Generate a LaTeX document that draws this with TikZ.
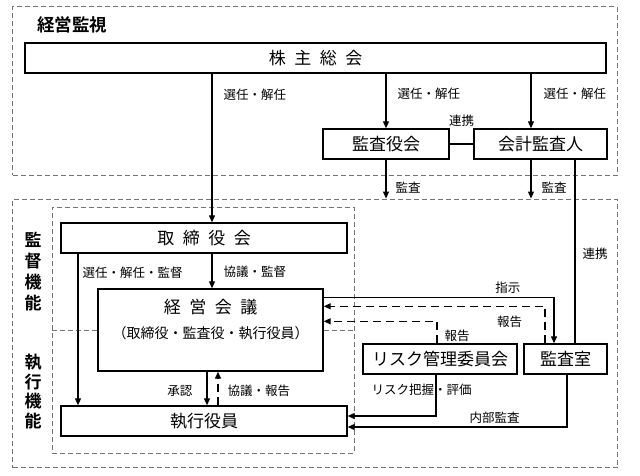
\documentclass[tikz,border=0pt]{standalone}
\usepackage{fontspec}
\setmainfont{Noto Sans CJK JP}[BoldFont={Noto Sans CJK JP Bold}]
\usetikzlibrary{arrows.meta,positioning}
\newcommand{\jgap}{\hspace{0.5em}}

\begin{document}
\begin{tikzpicture}[x=1pt, y=-1pt,
  box/.style={draw, line width=1.4pt, fill=white, inner sep=0pt, minimum height=30pt, font=\fontsize{17}{20}\selectfont},
  area/.style={draw=black!55, line width=0.9pt, dash pattern=on 5pt off 3pt, inner sep=0pt},
  lbl/.style={inner sep=1pt, font=\fontsize{12.5}{14}\selectfont},
  side/.style={align=center, font=\fontsize{17}{21}\selectfont\bfseries},
  arr/.style={draw, line width=1.2pt, -{Triangle[length=7pt,width=6pt]}},
  darr/.style={arr, line width=1.4pt, dash pattern=on 8pt off 5pt}]
    \useasboundingbox (0,0) rectangle (640,475);

    % areas
    \node[area, minimum width=604.5pt, minimum height=168.5pt] (kanshiarea) at (314.75,90.75) {};
    \node[area, minimum width=605pt, minimum height=268.5pt] (gyomuarea) at (315,333.25) {};
    \node[area, minimum width=302pt, minimum height=246pt] (naibuarea) at (203,330) {};
    \draw[area] (naibuarea.west) -- (naibuarea.east);

    \node[font=\fontsize{17.5}{20}\selectfont\bfseries] (kanshi) at (72,25) {経営監視};
    \node[side] (kantoku) at (33,271.5) {監\\督\\機\\能};
    \node[side, font=\fontsize{17}{19.5}\selectfont\bfseries] (shikko) at (33,391.5) {執\\行\\機\\能};

    % boxes
    \node[box, minimum width=581pt] (kabunushi) at (315.5,58) {株\jgap 主\jgap 総\jgap 会};
    \node[box, minimum width=126pt] (kansayaku) at (386,144) {監査役会};
    \node[box, minimum width=133pt] (kaikei) at (540.5,144) {会計監査人};
    \node[box, minimum width=286pt] (torishimari) at (204,238) {取\jgap 締\jgap 役\jgap 会};
    \node[box, minimum width=225pt, minimum height=82pt] (keiei) at (210.5,330) {};
    \node[font=\fontsize{17}{20}\selectfont] (keieiname) at (210.5,307) {経\jgap 営\jgap 会\jgap 議};
    \node[font=\fontsize{14}{16}\selectfont] (keieimember) at (210.5,333) {（取締役・監査役・執行役員）};
    \node[box, minimum width=286pt] (shikkou) at (204,421) {執行役員};
    \node[box, minimum width=154pt] (risk) at (440,359) {リスク管理委員会};
    \node[box, minimum width=83pt] (kansashitsu) at (565.5,359) {監査室};

    \coordinate (lineA) at (212,0);
    \coordinate (lineB) at (531,0);
    \coordinate (lineC) at (575,0);
    \coordinate (lineD) at (78,0);
    \coordinate (lineE) at (207,0);
    \coordinate (lineF) at (218,0);

    % kanshi
    \draw[arr] (kabunushi.south -| lineA) -- node[lbl, right=10pt, pos=0.14] {選任・解任} (torishimari.north -| lineA);
    \draw[arr] (kabunushi.south -| kansayaku) -- node[lbl, right=10pt, pos=0.375] {選任・解任} (kansayaku.north);
    \draw[arr] (kabunushi.south -| lineB) -- node[lbl, right=11pt, pos=0.375] {選任・解任} (kaikei.north -| lineB);
    \draw[line width=1.2pt] (kansayaku) -- node[lbl, above=16pt] {連携} (kaikei);
    \draw[arr] (kansayaku.south) -- node[lbl, right=8pt, pos=0.72] {監査} (kansayaku.south |- gyomuarea.north);
    \draw[arr] (kaikei.south -| lineB) -- node[lbl, right=9pt, pos=0.72] {監査} (gyomuarea.north -| lineB);
    \draw[line width=1.2pt] (kaikei.south -| lineC) -- node[lbl, right=6pt, pos=0.51] {連携} (kansashitsu.north -| lineC);

    % kantoku / shikko
    \draw[arr] (torishimari.south -| lineD) -- node[lbl, right=3pt, pos=0.124] {選任・解任・監督} (shikkou.north -| lineD);
    \draw[arr] (torishimari.south -| lineA) -- node[lbl, right=10pt, pos=0.53] {協議・監督} (keiei.north -| lineA);
    \draw[arr] (keiei.south -| lineE) -- node[lbl, left=13pt, pos=0.57] {承認} (shikkou.north -| lineE);
    \draw[darr] (shikkou.north -| lineF) -- node[lbl, right=8pt, pos=0.43] {協議・報告} (keiei.south -| lineF);

    \draw[arr] ([yshift=-9pt]keiei.north east) -| node[lbl, above=2pt, pos=0.4] {指示} ([xshift=-11.5pt]kansashitsu.north);
    \draw[darr] ([xshift=-20.5pt]kansashitsu.north) |- node[lbl, below=8pt, pos=0.58] {報告} ([yshift=-18pt]keiei.north east);
    \draw[darr] ([xshift=-3pt]risk.north) |- node[lbl, right=6pt, pos=0.18] {報告} ([yshift=-33pt]keiei.north east);
    \draw[arr] ([xshift=-4pt]risk.south) |- node[lbl, pos=0.18, xshift=-14.5pt] {リスク把握・評価} ([yshift=5pt]shikkou.east);
    \draw[arr] ([xshift=1.5pt]kansashitsu.south) |- node[lbl, above=2pt, pos=0.665] {内部監査} ([yshift=-6pt]shikkou.east);
\end{tikzpicture}
\end{document}
